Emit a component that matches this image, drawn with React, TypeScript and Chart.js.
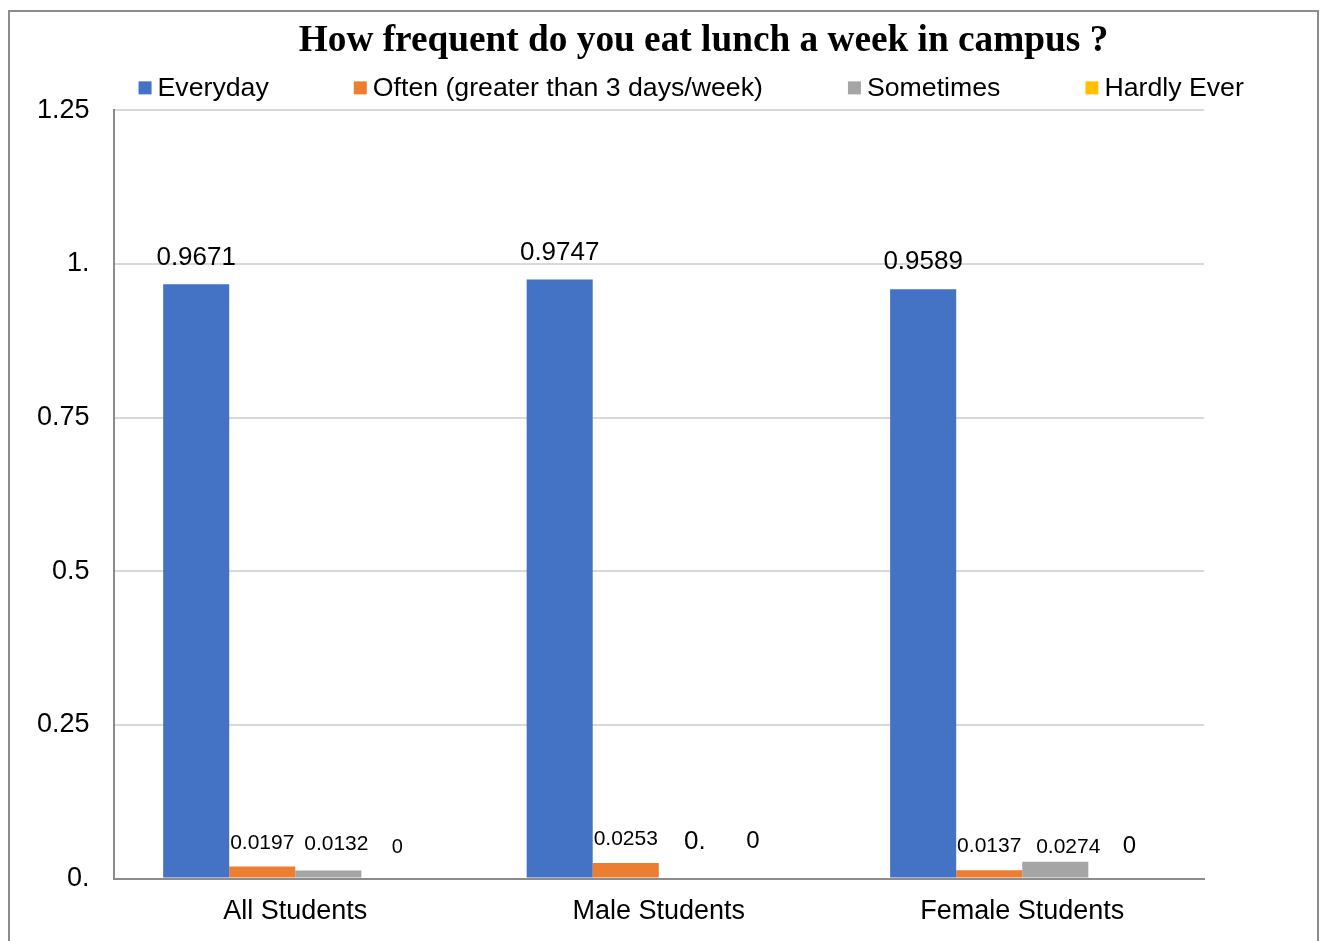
import React, { useEffect, useRef } from 'react';
import { Chart, registerables } from 'chart.js';

Chart.register(...registerables);

const TITLE = 'How frequent do you eat lunch a week in campus ?';
const CATEGORIES = ['All Students', 'Male Students', 'Female Students'];
const SERIES_NAMES = ['Everyday', 'Often (greater than 3 days/week)', 'Sometimes', 'Hardly Ever'];
const EVERYDAY = [0.9671, 0.9747, 0.9589];
const OFTEN = [0.0197, 0.0253, 0.0137];
const SOMETIMES = [0.0132, 0, 0.0274];
const HARDLY_EVER = [0, 0, 0];
const Y_TICK_LABELS = ['0.', '0.25', '0.5', '0.75', '1.', '1.25'];
const ZERO_LABELS = ['0', '0', '0.', '0'];

const SERIES = [EVERYDAY, OFTEN, SOMETIMES, HARDLY_EVER];

// styles
const COLORS = ['#4472C4', '#ED7D31', '#A5A5A5', '#FFC000'];
const LABEL_FONT_SIZES = [
  [26, 26, 26],
  [21, 21, 21],
  [21, 26, 21],
  [20, 24, 24],
];
const LABEL_DX = [
  [0, 0, 0],
  [0, 0, 0],
  [8, 3, 13],
  [3, -5, 8],
];
const LABEL_DY = [
  [26, 27, 27],
  [23, 24, 24],
  [26, 37, 15],
  [31, 37, 32],
];
const SANS = '"Liberation Sans", Arial, sans-serif';
const SERIF = '"Liberation Serif", "Times New Roman", serif';

const shiftPlugin = {
  id: 'shiftTitle',
  afterLayout(chart: any) {
    const t = chart.titleBlock;
    if (t) {
      t.left += 95;
      t.right += 95;
    }
  },
};

const legendPlugin = {
  id: 'customLegend',
  afterDraw(chart: any) {
    const { ctx, chartArea } = chart;
    ctx.save();
    ctx.font = `26.7px ${SANS}`;
    ctx.textBaseline = 'middle';
    ctx.textAlign = 'left';
    let x = chartArea.left + 25;
    const cy = chartArea.top - 23;
    SERIES_NAMES.forEach((name, i) => {
      ctx.fillStyle = COLORS[i];
      ctx.fillRect(x, cy - 6, 13, 13);
      ctx.fillStyle = '#000';
      ctx.fillText(name, x + 19, cy + 1);
      x += 19 + ctx.measureText(name).width + 85;
    });
    ctx.restore();
  },
};

const labelPlugin = {
  id: 'barLabels',
  afterDatasetsDraw(chart: any) {
    const { ctx } = chart;
    ctx.save();
    ctx.fillStyle = '#000';
    ctx.textAlign = 'center';
    ctx.textBaseline = 'middle';
    SERIES.forEach((vals, i) => {
      const meta = chart.getDatasetMeta(i);
      meta.data.forEach((bar: any, j: number) => {
        const v = vals[j];
        const text = v === 0 ? ZERO_LABELS[i] : String(v);
        const size = LABEL_FONT_SIZES[i][j];
        ctx.font = `${size}px ${SANS}`;
        ctx.fillText(text, bar.x + LABEL_DX[i][j], bar.y - LABEL_DY[i][j]);
      });
    });
    ctx.restore();
  },
};

export default function App() {
  const ref = useRef<HTMLCanvasElement | null>(null);

  useEffect(() => {
    document.body.style.overflow = 'hidden';
    const canvas = ref.current;
    if (!canvas) return;
    Chart.defaults.font.family = SANS;
    Chart.defaults.color = '#000';
    const chart = new Chart(canvas, {
      type: 'bar',
      data: {
        labels: CATEGORIES,
        datasets: SERIES.map((vals, i) => ({
          label: SERIES_NAMES[i],
          data: vals,
          backgroundColor: COLORS[i],
          borderWidth: 0,
          categoryPercentage: 0.727,
          barPercentage: 1.0,
        })),
      },
      options: {
        responsive: false,
        animation: false,
        devicePixelRatio: 1,
        layout: { padding: { left: 3, right: 113, top: 0, bottom: 4 } },
        plugins: {
          legend: { display: false },
          tooltip: { enabled: false },
          title: {
            display: true,
            text: TITLE,
            color: '#000',
            font: { family: SERIF, size: 37.3, weight: 'bold', lineHeight: 1.2 },
            padding: { top: 7, bottom: 46.6 },
          },
        },
        scales: {
          x: {
            grid: { display: false },
            border: { display: true, color: '#8c8c8c', width: 2 },
            ticks: { color: '#000', font: { size: 27 }, padding: 9 },
          },
          y: {
            min: 0,
            max: 1.25,
            ticks: {
              stepSize: 0.25,
              color: '#000',
              font: { size: 27 },
              padding: 24,
              callback: (_v: any, idx: number) => Y_TICK_LABELS[idx],
            },
            grid: { color: '#d9d9d9', lineWidth: 2, drawTicks: false },
            border: { display: true, color: '#8c8c8c', width: 2 },
          },
        },
      },
      plugins: [shiftPlugin, legendPlugin, labelPlugin],
    });
    return () => chart.destroy();
  }, []);

  return (
    <div
      style={{
        position: 'fixed',
        left: 8,
        top: 10,
        width: 1311,
        height: 960,
        boxSizing: 'border-box',
        border: '2px solid #8c8c8c',
        overflow: 'hidden',
        background: '#fff',
      }}
    >
      <canvas ref={ref} width={1307} height={929} style={{ display: 'block', width: 1307, height: 929 }} />
    </div>
  );
}
